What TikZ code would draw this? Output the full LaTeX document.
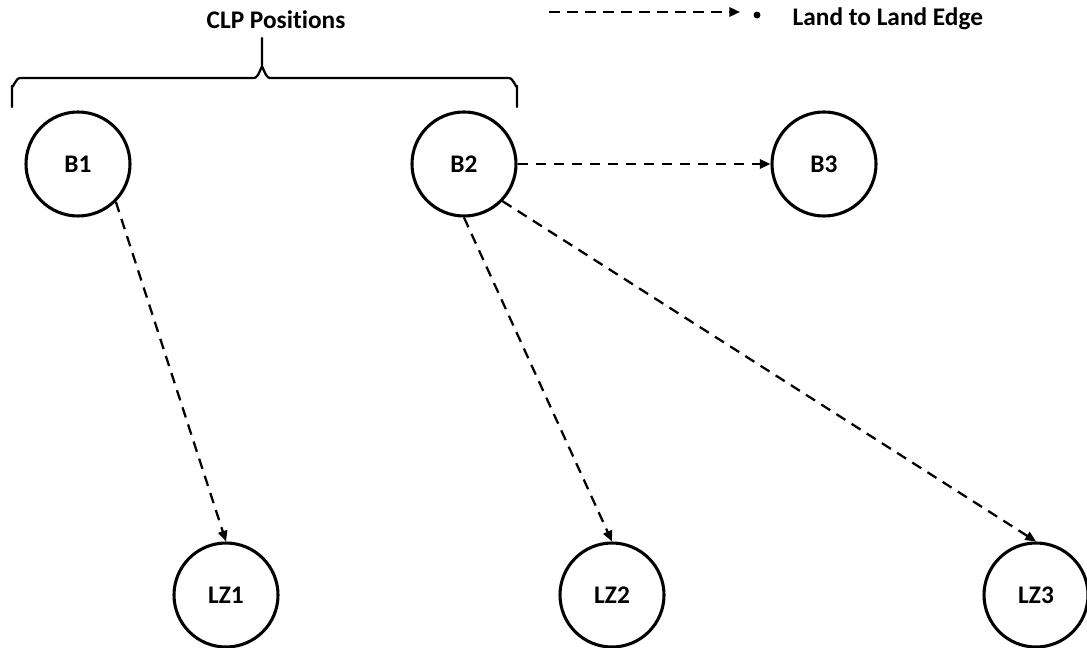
\documentclass[tikz,border=0pt]{standalone}
\usepackage{fontspec}
\setmainfont{Carlito}[Ligatures=NoCommon]
\usetikzlibrary{arrows.meta}
\tikzset{
  site/.style={circle,draw,line width=2.3pt,minimum size=78pt,inner sep=0pt,font=\bfseries\fontsize{19}{21}\selectfont},
  landedge/.style={-{Triangle[length=8pt,width=7pt]},line width=1.7pt,dash pattern=on 8pt off 5.5pt},
  bracepath/.style={line width=1.7pt,line cap=round,line join=round},
  caption/.style={font=\bfseries\fontsize{19}{21}\selectfont}
}
\begin{document}
\begin{tikzpicture}[x=0.75pt,y=-0.75pt]
    \useasboundingbox (0,0) rectangle (1087,648);
    % nodes
    \node[site] (b1) at (78,164) {B1};
    \node[site] (b2) at (464,164) {B2};
    \node[site] (b3) at (824,164) {B3};
    \node[site] (lz1) at (226,595) {LZ1};
    \node[site] (lz2) at (612,595) {LZ2};
    \node[site] (lz3) at (1036,595) {LZ3};
    % brace over the CLP positions
    \node[caption] (clp) at (276,20) {CLP Positions};
    \draw[bracepath] (12,107) -- (12,86) to[out=-90,in=180] (20,78) -- (254,78)
        to[out=0,in=90] (262,68) -- (262,38);
    \draw[bracepath] (517,107) -- (517,86) to[out=-90,in=0] (509,78) -- (270,78)
        to[out=180,in=90] (262,68);
    % legend
    \coordinate (lgA) at (549,12);
    \coordinate (lgB) at (740,12);
    \draw[landedge] (lgA) -- (lgB);
    \fill (757,15) circle (2.6pt);
    \node[caption,anchor=west] (lgtext) at (788,19) {Land to Land Edge};
    % edges
    \draw[landedge] (b1.-45) -- (lz1.north);
    \draw[landedge] (b2.east) -- (b3.west);
    \draw[landedge] (b2.south) -- (lz2.north);
    \draw[landedge] (b2.-44) -- (lz3.north);
\end{tikzpicture}
\end{document}
